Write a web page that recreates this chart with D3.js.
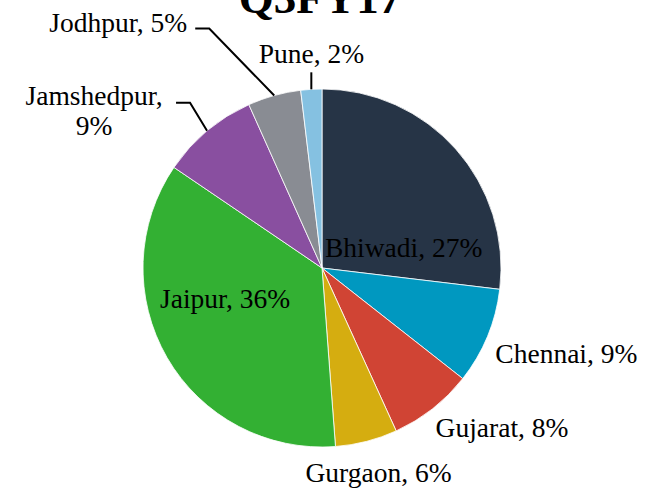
<!DOCTYPE html>
<html>
<head>
<meta charset="utf-8">
<script src="https://cdn.jsdelivr.net/npm/d3@7"></script>
<style>
  html, body { margin: 0; padding: 0; background: #ffffff; }
  svg { display: block; }
</style>
</head>
<body>
<svg id="chart" width="652" height="491"></svg>
<script>
// ---- data ----
const title = "Q3FY17";
const categories = ["Bhiwadi", "Chennai", "Gujarat", "Gurgaon", "Jaipur", "Jamshedpur", "Jodhpur", "Pune"];
const shares = [26.9, 8.7, 7.6, 5.6, 35.7, 8.8, 4.8, 1.9];
const percentLabels = ["27%", "9%", "8%", "6%", "36%", "9%", "5%", "2%"];
const colors = ["#263446", "#0098c0", "#d04434", "#d5ad10", "#33b033", "#894fa0", "#898c93", "#85c1e1"];

// ---- layout ----
const cx = 322, cy = 268, R = 179;
const font = "'Liberation Serif', 'Times New Roman', serif";
const fs = 27.5;

const svg = d3.select("#chart");

svg.append("text")
  .attr("x", 320).attr("y", 13)
  .attr("text-anchor", "middle")
  .attr("font-family", font)
  .attr("font-weight", "bold")
  .attr("font-size", 45)
  .attr("fill", "#000")
  .text(title);

const data = categories.map((c, i) => ({ name: c, value: shares[i], pct: percentLabels[i], color: colors[i] }));

const pie = d3.pie().value(d => d.value).sort(null);
const arcs = pie(data);
const arc = d3.arc().innerRadius(0).outerRadius(R);

const g = svg.append("g").attr("transform", `translate(${cx},${cy})`);

g.selectAll("path.slice")
  .data(arcs)
  .join("path")
  .attr("class", "slice")
  .attr("d", arc)
  .attr("fill", d => d.data.color)
  .attr("stroke", "#ffffff")
  .attr("stroke-width", 0.8);

function edge(d, k = 1) {
  const a = (d.startAngle + d.endAngle) / 2;
  return [Math.sin(a) * R * k, -Math.cos(a) * R * k];
}

// label layout (offsets relative to pie edge point at mid-angle, or to the pie centre)
const labelLayout = {
  "Bhiwadi":    { anchor: "start",  from: "center", dx: 3,   dy: -11 },
  "Chennai":    { anchor: "start",  from: "edge",   dx: 8,   dy: 26 },
  "Gujarat":    { anchor: "start",  from: "edge",   dx: 3,   dy: 28 },
  "Gurgaon":    { anchor: "middle", from: "edge",   dx: 12,  dy: 41 },
  "Jaipur":     { anchor: "start",  from: "center", dx: -162, dy: 40 },
  "Jamshedpur": { anchor: "middle", from: "edge",   dx: -113, dy: -26, twoLine: true,
                  leader: [[-17, -28], [-31, -28]] },
  "Jodhpur":    { anchor: "end",    from: "edge",   dx: -87, dy: -64,
                  leader: [[-65, -67], [-79, -67]] },
  "Pune":       { anchor: "middle", from: "edge",   dx: 0,   dy: -26,
                  leader: [[0, -17]] }
};

const line = d3.line();

arcs.forEach(d => {
  const L = labelLayout[d.data.name];
  const e = edge(d);
  const base = L.from === "edge" ? e : [0, 0];
  const x = base[0] + L.dx, y = base[1] + L.dy;

  if (L.leader) {
    const pts = [e].concat(L.leader.map(p => [e[0] + p[0], e[1] + p[1]]));
    g.append("path")
      .attr("d", line(pts))
      .attr("fill", "none")
      .attr("stroke", "#000")
      .attr("stroke-width", 2);
  }

  const t = g.append("text")
    .attr("x", x).attr("y", y)
    .attr("text-anchor", L.anchor)
    .attr("font-family", font)
    .attr("font-size", fs)
    .attr("fill", "#000");
  if (L.twoLine) {
    t.append("tspan").attr("x", x).attr("dy", 0).text(d.data.name + ",");
    t.append("tspan").attr("x", x).attr("dy", 30).text(d.data.pct);
  } else {
    t.text(`${d.data.name}, ${d.data.pct}`);
  }
});
</script>
</body>
</html>
